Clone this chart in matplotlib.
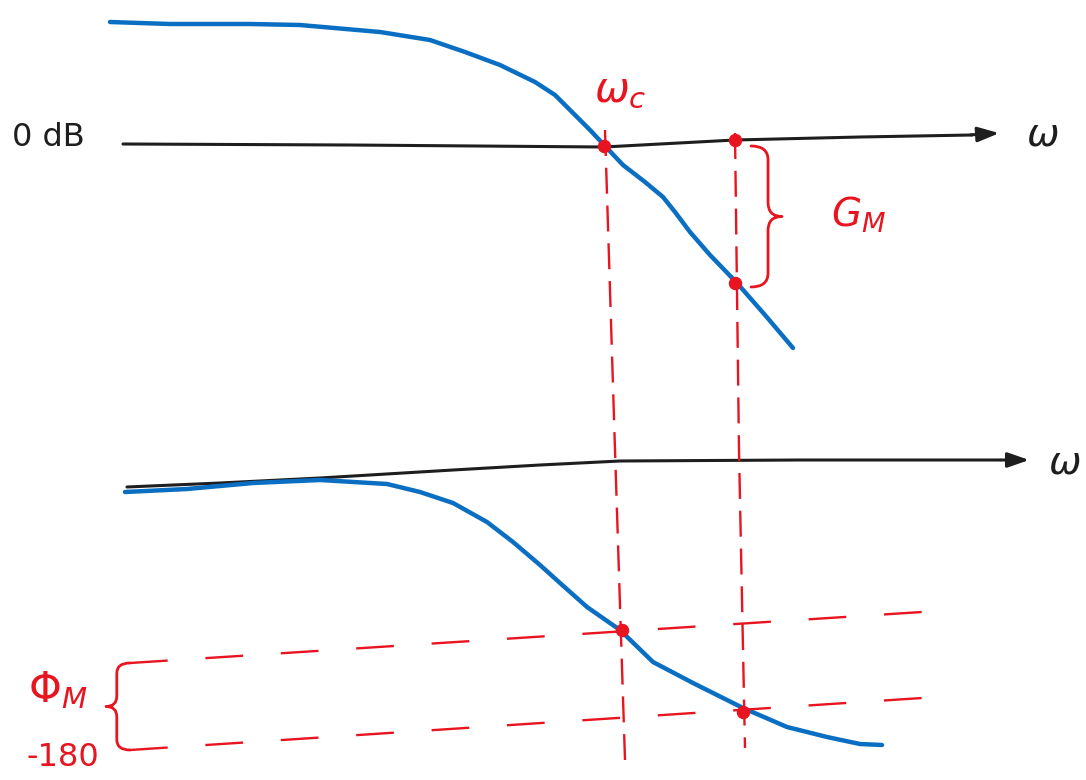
import numpy as np
import matplotlib
matplotlib.use("Agg")
import matplotlib.pyplot as plt
from matplotlib.path import Path
from matplotlib.patches import PathPatch

# ---------------- data (sketch coordinates, pixel-like units) ----------------
mag_x = [110, 170, 250, 300, 380, 430, 465, 500, 535, 555, 570, 590, 605,
         623, 645, 663, 675, 690, 710, 737, 765, 793]
mag_y = [22, 24, 24, 25, 32, 40, 52, 65, 82, 95, 110, 130, 146,
         165, 182, 197, 212, 232, 255, 283, 315, 348]

zero_db_x = [123, 350, 604, 735, 860, 972]
zero_db_y = [144, 145, 147, 140, 137, 135]

phase_axis_x = [127, 220, 320, 453, 540, 620, 800, 1000]
phase_axis_y = [487, 483, 478, 470, 465, 461, 460, 460]

phase_x = [125, 187, 253, 320, 387, 420, 453, 487, 513, 540, 560, 587, 620,
           653, 693, 743, 787, 827, 860, 882]
phase_y = [492, 489, 483, 480, 484, 492, 503, 522, 542, 565, 583, 607, 630,
           662, 683, 708, 727, 737, 744, 745]

# dashed guide lines
vline_wc_x = [605, 615, 625]
vline_wc_y = [130, 450, 760]
vline_180_x = [735, 739, 745]
vline_180_y = [133, 450, 748]
hline_pm_x = [130, 922]
hline_pm_y = [663, 612]
hline_180_x = [130, 922]
hline_180_y = [750, 698]

# marked points
dots_x = [604, 735, 735, 622, 743]
dots_y = [146, 140, 283, 630, 712]

labels = {
    "zero_db": "0 dB",
    "omega": r"$\omega$",
    "omega_c": r"$\omega_c$",
    "gain_margin": r"$G_M$",
    "phase_margin": r"$\Phi_M$",
    "minus180": "-180",
}

BLUE = "#0a6fc2"
RED = "#e8141f"
BLACK = "#1e1e1e"

plt.rcParams["mathtext.fontset"] = "dejavusans"

fig = plt.figure(figsize=(10.86, 7.80), dpi=100)
ax = fig.add_axes([0, 0, 1, 1])
ax.set_xlim(0, 1086)
ax.set_ylim(780, 0)
ax.axis("off")

# axes lines (black)
ax.plot(zero_db_x, zero_db_y, color=BLACK, lw=2.2, solid_capstyle="round")
ax.annotate("", xy=(1002, 133), xytext=(968, 135),
            arrowprops=dict(arrowstyle="-|>,head_length=1.3,head_width=0.45",
                            color=BLACK, lw=2.2))
ax.plot(phase_axis_x, phase_axis_y, color=BLACK, lw=2.2, solid_capstyle="round")
ax.annotate("", xy=(1032, 460), xytext=(998, 460),
            arrowprops=dict(arrowstyle="-|>,head_length=1.3,head_width=0.45",
                            color=BLACK, lw=2.2))

# blue curves
ax.plot(mag_x, mag_y, color=BLUE, lw=3.2, solid_capstyle="round", solid_joinstyle="round")
ax.plot(phase_x, phase_y, color=BLUE, lw=3.2, solid_capstyle="round", solid_joinstyle="round")

# red dashed guides
ax.plot(vline_wc_x, vline_wc_y, color=RED, lw=1.7, dashes=(11, 5))
ax.plot(vline_180_x, vline_180_y, color=RED, lw=1.7, dashes=(11, 5))
ax.plot(hline_pm_x, hline_pm_y, color=RED, lw=1.7, dashes=(16, 16))
ax.plot(hline_180_x, hline_180_y, color=RED, lw=1.7, dashes=(16, 16))

# red dots
ax.scatter(dots_x, dots_y, s=75, color=RED, zorder=5)


def brace(x0, y0, y1, w, direction=1):
    """Curly brace from (x0,y0) to (x0,y1), tip offset by direction*w."""
    ym = (y0 + y1) / 2
    r = min(abs(y1 - y0) * 0.12, 14)
    xm = x0 + direction * w * 0.55
    xt = x0 + direction * w
    verts = [
        (x0, y0), (xm, y0), (xm, y0 + r),
        (xm, ym - r),
        (xm, ym), (xt, ym),
        (xm, ym), (xm, ym + r),
        (xm, y1 - r),
        (xm, y1), (x0, y1),
    ]
    codes = [Path.MOVETO, Path.CURVE3, Path.CURVE3,
             Path.LINETO,
             Path.CURVE3, Path.CURVE3,
             Path.CURVE3, Path.CURVE3,
             Path.LINETO,
             Path.CURVE3, Path.CURVE3]
    return PathPatch(Path(verts, codes), fill=False, edgecolor=RED, lw=2.0,
                     capstyle="round", joinstyle="round")


ax.add_patch(brace(751, 146, 287, 31, direction=1))
ax.add_patch(brace(130, 663, 750, 24, direction=-1))

# text labels
ax.text(48, 138, labels["zero_db"], fontsize=23, color=BLACK, ha="center", va="center")
ax.text(1042, 135, labels["omega"], fontsize=28, color=BLACK, ha="center", va="center")
ax.text(1064, 462, labels["omega"], fontsize=28, color=BLACK, ha="center", va="center")
ax.text(620, 90, labels["omega_c"], fontsize=30, color=RED, ha="center", va="center")
ax.text(858, 215, labels["gain_margin"], fontsize=28, color=RED, ha="center", va="center")
ax.text(58, 690, labels["phase_margin"], fontsize=30, color=RED, ha="center", va="center")
ax.text(63, 757, labels["minus180"], fontsize=23, color=RED, ha="center", va="center")

fig.savefig("out.png", dpi=100)
